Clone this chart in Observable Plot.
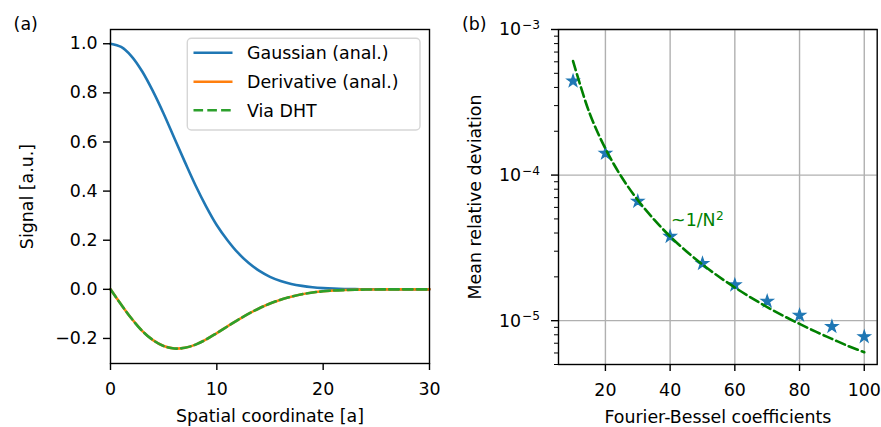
<!DOCTYPE html>
<html>
<head>
<meta charset="utf-8">
<script src="https://cdn.jsdelivr.net/npm/d3@7"></script>
<script src="https://cdn.jsdelivr.net/npm/@observablehq/plot@0.6"></script>
<style>
  body { margin: 0; background: #fff; }
  #wrap { position: relative; width: 881px; height: 427px; display: flex; font-family: "DejaVu Sans"; }
  #wrap > svg { flex: none; }
  #overlay { position: absolute; left: 0; top: 0; pointer-events: none; }
</style>
</head>
<body>
<div id="wrap"></div>
<script>
// ---------- Panel (a) data ----------
const spatial = [0,1,2,3,4,5,6,7,8,9,10,11,12,13,14,15,16,17,18,19,20,21,22,23,24,25,26,27,28,29,30];
const gaussian = [1.000,0.987,0.948,0.886,0.806,0.715,0.616,0.518,0.423,0.337,0.261,0.200,0.148,0.107,0.075,0.051,0.034,0.022,0.014,0.0085,0.005,0.0028,0.0015,0.0008,0.0004,0.0002,0.0001,0,0,0,0];
const derivative = [0,-0.062,-0.120,-0.170,-0.207,-0.231,-0.241,-0.238,-0.225,-0.204,-0.178,-0.151,-0.124,-0.099,-0.077,-0.058,-0.042,-0.030,-0.020,-0.013,-0.008,-0.005,-0.003,-0.0015,-0.0008,-0.0004,-0.0002,0,0,0,0];
const viaDHT = [0,-0.062,-0.120,-0.170,-0.207,-0.231,-0.241,-0.238,-0.225,-0.204,-0.178,-0.151,-0.124,-0.099,-0.077,-0.058,-0.042,-0.030,-0.020,-0.013,-0.008,-0.005,-0.003,-0.0015,-0.0008,-0.0004,-0.0002,0,0,0,0];
const seriesNames = ["Gaussian (anal.)", "Derivative (anal.)", "Via DHT"];
const seriesColors = ["#1f77b4", "#ff7f0e", "#2ca02c"];
const leftXTicks = [0, 10, 20, 30];
const leftYTicks = [-0.2, 0.0, 0.2, 0.4, 0.6, 0.8, 1.0];

// ---------- Panel (b) data ----------
const coefficients = [10, 20, 30, 40, 50, 60, 70, 80, 90, 100];
const deviation = [4.43e-4, 1.41e-4, 6.6e-5, 3.79e-5, 2.47e-5, 1.76e-5, 1.36e-5, 1.09e-5, 9.1e-6, 7.76e-6];
const fitN = [10,15,20,25,30,35,40,45,50,55,60,65,70,75,80,85,90,95,100];
const fitValues = [6.07e-4,2.70e-4,1.52e-4,9.7e-5,6.74e-5,4.96e-5,3.79e-5,3.0e-5,2.43e-5,2.01e-5,1.69e-5,1.44e-5,1.24e-5,1.08e-5,9.5e-6,8.4e-6,7.5e-6,6.7e-6,6.07e-6];
const fitLabelBase = "~1/N";
const fitLabelExp = "2";
const fitLabelPos = {x: 40.3, y: 4.9e-5};
const rightXTicks = [20, 40, 60, 80, 100];
const rightYTicks = [1e-5, 1e-4, 1e-3];
const rightYTickBase = "10";
const rightYTickExps = ["−5", "−4", "−3"];
const rightYMinor = [5e-6,6e-6,7e-6,8e-6,9e-6,2e-5,3e-5,4e-5,5e-5,6e-5,7e-5,8e-5,9e-5,2e-4,3e-4,4e-4,5e-4,6e-4,7e-4,8e-4,9e-4];

const FS = 17.4;
const SUP = 12.2;
const LW = 2.6;
const DASH = "9.6,4.2";
const fontStyle = {fontFamily: "DejaVu Sans", fontSize: FS + "px", color: "black", background: "white", overflow: "visible"};

const gaussData = spatial.map((x, i) => ({x, y: gaussian[i]}));
const derivData = spatial.map((x, i) => ({x, y: derivative[i]}));
const dhtData = spatial.map((x, i) => ({x, y: viaDHT[i]}));

const left = Plot.plot({
  width: 440, height: 427,
  marginLeft: 110, marginRight: 11, marginTop: 29, marginBottom: 64,
  style: fontStyle,
  x: {domain: [0, 30]},
  y: {domain: [-0.302, 1.058]},
  marks: [
    Plot.line(gaussData, {x: "x", y: "y", stroke: seriesColors[0], strokeWidth: LW, curve: "catmull-rom"}),
    Plot.line(derivData, {x: "x", y: "y", stroke: seriesColors[1], strokeWidth: LW, curve: "catmull-rom"}),
    Plot.line(dhtData, {x: "x", y: "y", stroke: seriesColors[2], strokeWidth: LW, strokeDasharray: DASH, curve: "catmull-rom"}),
    Plot.frame({stroke: "black", strokeWidth: 1.4}),
    Plot.axisX({ticks: leftXTicks, tickFormat: d3.format("d"), tickSize: 7, tickPadding: 12, strokeWidth: 1.4, label: null}),
    Plot.axisY({ticks: leftYTicks, tickFormat: d3.format(".1f"), tickSize: 7, tickPadding: 6, strokeWidth: 1.4, label: null}),
    Plot.text(["Spatial coordinate [a]"], {frameAnchor: "bottom", dy: 53, lineAnchor: "middle", textAnchor: "middle", text: d => d}),
    Plot.text(["Signal [a.u.]"], {frameAnchor: "left", dx: -82.6, rotate: -90, lineAnchor: "middle", textAnchor: "middle", text: d => d})
  ]
});

const devData = coefficients.map((n, i) => ({n, v: deviation[i]}));
const fitData = fitN.map((n, i) => ({n, v: fitValues[i]}));
const tickLabelData = rightYTicks.map((v, i) => ({v, exp: rightYTickExps[i]}));

const right = Plot.plot({
  width: 441, height: 427,
  marginLeft: 118, marginRight: 4.3, marginTop: 29, marginBottom: 63,
  style: fontStyle,
  x: {domain: [5.5, 104]},
  y: {type: "log", domain: [5e-6, 1e-3]},
  marks: [
    Plot.gridX({ticks: rightXTicks, stroke: "#b0b0b0", strokeOpacity: 1, strokeWidth: 1.4}),
    Plot.gridY({ticks: rightYTicks, stroke: "#b0b0b0", strokeOpacity: 1, strokeWidth: 1.4}),
    Plot.dot(devData, {x: "n", y: "v", symbol: "star", r: 3.8, fill: "#1f77b4", stroke: "#1f77b4", strokeWidth: 1.2}),
    Plot.line(fitData, {x: "n", y: "v", stroke: "#008000", strokeWidth: LW, strokeDasharray: DASH, curve: "catmull-rom"}),
    Plot.text([fitLabelBase], {x: () => fitLabelPos.x, y: () => fitLabelPos.y, text: d => d, fill: "#008000", textAnchor: "start", lineAnchor: "middle"}),
    Plot.text([fitLabelExp], {x: () => fitLabelPos.x, y: () => fitLabelPos.y, text: d => d, fill: "#008000", textAnchor: "start", lineAnchor: "middle", fontSize: SUP, dx: 45, dy: -4.2}),
    Plot.frame({stroke: "black", strokeWidth: 1.4}),
    Plot.axisX({ticks: rightXTicks, tickFormat: d3.format("d"), tickSize: 7, tickPadding: 12, strokeWidth: 1.4, label: null}),
    Plot.axisY({ticks: rightYTicks, tickFormat: () => "", tickSize: 7, strokeWidth: 1.4, label: null}),
    Plot.axisY({ticks: rightYMinor, tickFormat: () => "", tickSize: 4, strokeWidth: 1, label: null}),
    Plot.text(tickLabelData, {y: "v", frameAnchor: "left", text: () => rightYTickBase, textAnchor: "end", lineAnchor: "middle", dx: -37.3, dy: 0.3}),
    Plot.text(tickLabelData, {y: "v", frameAnchor: "left", text: "exp", textAnchor: "start", lineAnchor: "middle", fontSize: SUP, dx: -36.5, dy: -4.3}),
    Plot.text(["Fourier-Bessel coefficients"], {frameAnchor: "bottom", dy: 53, lineAnchor: "middle", textAnchor: "middle", text: d => d}),
    Plot.text(["Mean relative deviation"], {frameAnchor: "left", dx: -83, rotate: -90, lineAnchor: "middle", textAnchor: "middle", text: d => d})
  ]
});

const wrap = document.getElementById("wrap");
wrap.appendChild(left);
wrap.appendChild(right);

// ---------- Overlay: legend and panel letters ----------
const ns = "http://www.w3.org/2000/svg";
const ov = document.createElementNS(ns, "svg");
ov.setAttribute("id", "overlay");
ov.setAttribute("width", 881);
ov.setAttribute("height", 427);
ov.style.fontFamily = "DejaVu Sans";
ov.style.fontSize = FS + "px";
function el(tag, attrs, txt) {
  const e = document.createElementNS(ns, tag);
  for (const k in attrs) e.setAttribute(k, attrs[k]);
  if (txt != null) e.textContent = txt;
  ov.appendChild(e);
  return e;
}
el("text", {x: 13.6, y: 29.5, fill: "black"}, "(a)");
el("text", {x: 462, y: 29.5, fill: "black"}, "(b)");
el("rect", {x: 187.3, y: 38.3, width: 232.7, height: 91.7, rx: 4, ry: 4, fill: "white", "fill-opacity": 0.8, stroke: "#d6d6d6", "stroke-width": 1.4});
const rowY = [52.7, 81.8, 110.3];
seriesNames.forEach((name, i) => {
  const a = {x1: 193.5, x2: 232.5, y1: rowY[i], y2: rowY[i], stroke: seriesColors[i], "stroke-width": LW};
  if (i === 2) a["stroke-dasharray"] = DASH;
  el("line", a);
  el("text", {x: 247, y: rowY[i] + 6.6, fill: "black"}, name);
});
wrap.appendChild(ov);
</script>
</body>
</html>
